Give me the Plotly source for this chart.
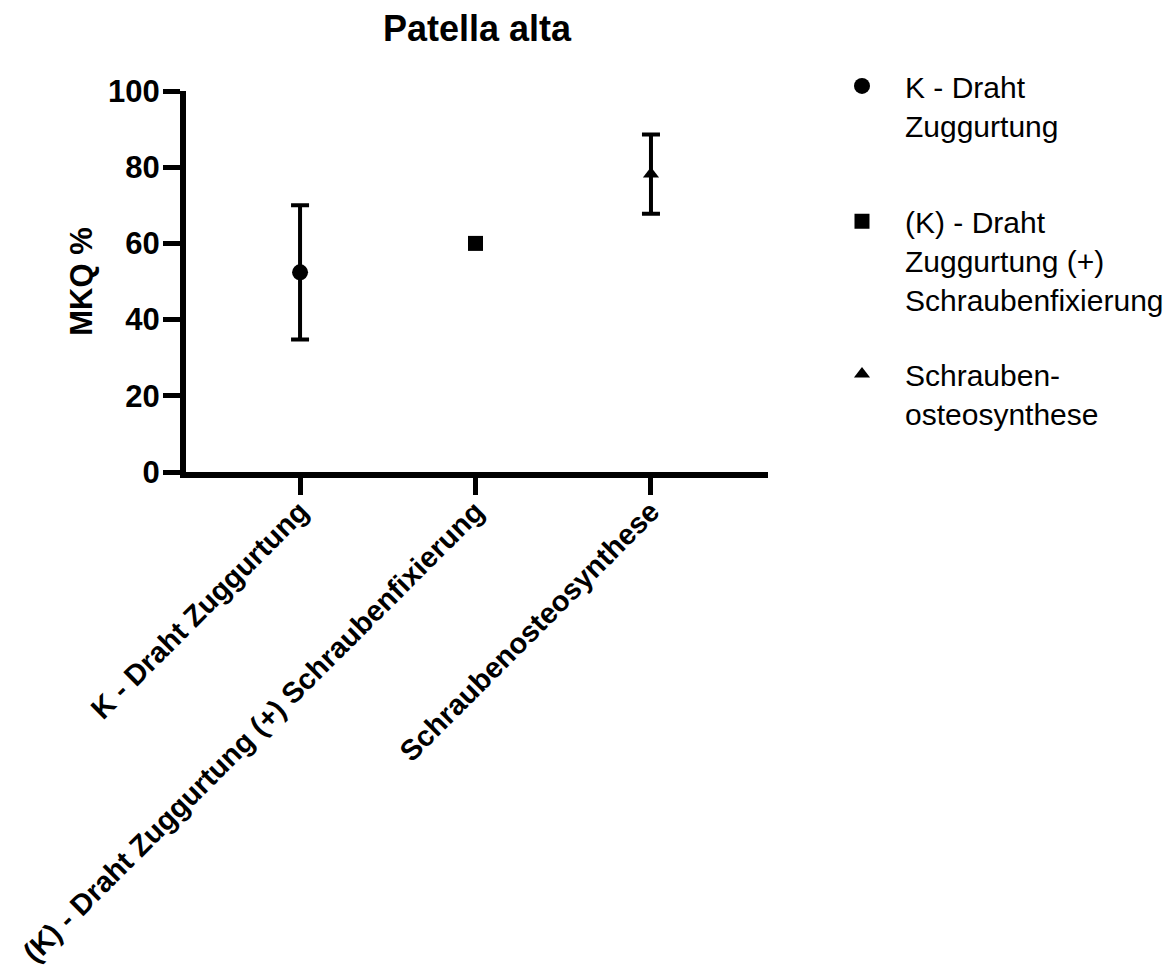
import plotly.graph_objects as go

# Group labels and summary values (mean with symmetric error)
groups = [
    "K - Draht Zuggurtung",
    "(K) - Draht Zuggurtung (+) Schraubenfixierung",
    "Schraubenosteosynthese",
]
legend_names = [
    "K - Draht<br>Zuggurtung",
    "(K) - Draht<br>Zuggurtung (+)<br>Schraubenfixierung",
    "Schrauben-<br>osteosynthese",
]
means = [52.4, 60.0, 78.2]
errors = [17.6, 0.0, 10.4]
symbols = ["circle", "square", "triangle-up"]
marker_sizes = [16, 15, 14]
y_ticks = [0, 20, 40, 60, 80, 100]

FONT = "Liberation Sans, Arial, sans-serif"
legend_ids = ["legend", "legend2", "legend3"]
legend_y = [0.938, 0.798, 0.640]

fig = go.Figure()
for i, g in enumerate(groups):
    fig.add_trace(go.Scatter(
        x=[i],
        y=[means[i]],
        mode="markers",
        name=legend_names[i],
        legend=legend_ids[i],
        marker=dict(symbol=symbols[i], size=marker_sizes[i], color="black"),
        error_y=dict(type="data", array=[errors[i]], visible=errors[i] > 0,
                     color="black", thickness=4, width=9),
    ))

# one legend box per group, placed in container coordinates
legend_style = dict(xref="container", yref="container", x=0.6988,
                    xanchor="left", yanchor="top", valign="top",
                    font=dict(size=30, family=FONT), itemwidth=76,
                    bgcolor="rgba(0,0,0,0)", borderwidth=0)

fig.update_layout(
    width=1172,
    height=967,
    margin=dict(l=186, r=404, t=91, b=495),
    paper_bgcolor="white",
    plot_bgcolor="white",
    font=dict(family=FONT, color="black"),
    title=dict(text="<b>Patella alta</b>", x=477 / 1172, xanchor="center",
               y=0.971, yanchor="middle", font=dict(size=36, family=FONT)),
    showlegend=True,
    legend=dict(y=legend_y[0], **legend_style),
    legend2=dict(y=legend_y[1], **legend_style),
    legend3=dict(y=legend_y[2], **legend_style),
)

fig.update_xaxes(
    range=[-0.65, 2.667],
    tickmode="array",
    tickvals=list(range(len(groups))),
    ticktext=[f"<b>{g}</b>" for g in groups],
    tickangle=-45,
    tickfont=dict(size=29, family=FONT),
    ticklabeloverflow="allow",
    ticklabelstandoff=-12,
    showline=True, linewidth=6, linecolor="black",
    ticks="outside", ticklen=17, tickwidth=5, tickcolor="black",
    showgrid=False, zeroline=False, automargin=False,
)
fig.update_yaxes(
    range=[0, 100],
    tickvals=y_ticks,
    ticktext=[f"<b>{t}</b>" for t in y_ticks],
    tickfont=dict(size=31, family=FONT),
    ticklabelstandoff=-3,
    showline=True, linewidth=6, linecolor="black",
    ticks="outside", ticklen=17, tickwidth=5, tickcolor="black",
    showgrid=False, zeroline=False, automargin=False,
    title=dict(text="<b>MKQ %</b>", font=dict(size=31, family=FONT), standoff=8),
)

fig.write_html("out.html")
